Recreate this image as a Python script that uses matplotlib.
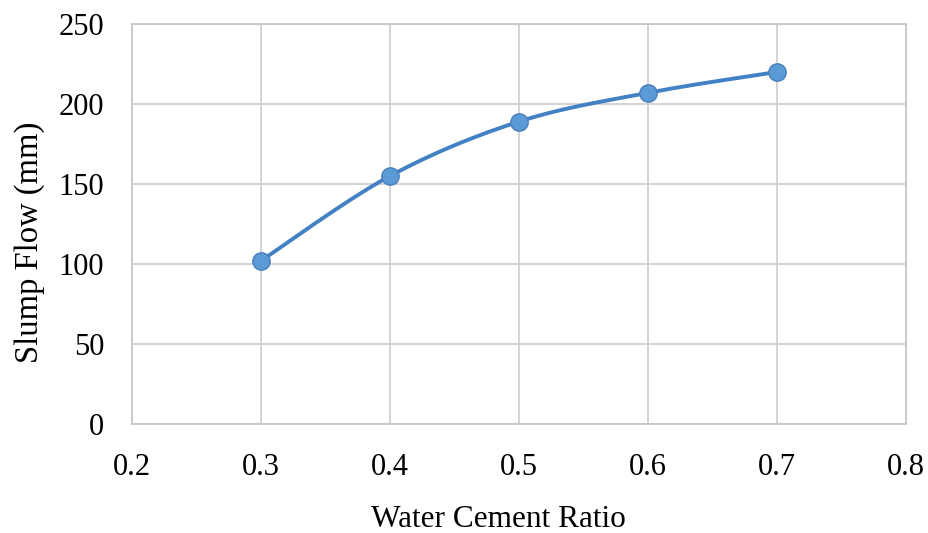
import numpy as np
import matplotlib
matplotlib.use("Agg")
import matplotlib.pyplot as plt

# Slump flow measured at each water-cement ratio
water_cement_ratio = [0.3, 0.4, 0.5, 0.6, 0.7]
slump_flow_mm = [102, 155, 189, 207, 220]

x_ticks = [0.2, 0.3, 0.4, 0.5, 0.6, 0.7, 0.8]
y_ticks = [0, 50, 100, 150, 200, 250]


def smooth_curve(xs, ys, n=40):
    """Cubic Bezier smoothing through the points (Catmull-Rom style)."""
    p = np.column_stack([xs, ys]).astype(float)
    out = []
    for i in range(len(p) - 1):
        p0 = p[i - 1] if i > 0 else p[i]
        p1 = p[i]
        p2 = p[i + 1]
        p3 = p[i + 2] if i + 2 < len(p) else p[i + 1]
        c1 = p1 + (p2 - p0) / 6.0
        c2 = p2 - (p3 - p1) / 6.0
        t = np.linspace(0, 1, n)[:, None]
        seg = ((1 - t) ** 3) * p1 + 3 * ((1 - t) ** 2) * t * c1 \
            + 3 * (1 - t) * t ** 2 * c2 + t ** 3 * p2
        out.append(seg if i == 0 else seg[1:])
    c = np.vstack(out)
    return c[:, 0], c[:, 1]


plt.rcParams["font.family"] = ["Liberation Serif", "DejaVu Serif"]

fig = plt.figure(figsize=(9.29, 5.33), dpi=100)
ax = fig.add_axes([0.1421, 0.2045, 0.8331, 0.7505])

sx, sy = smooth_curve(water_cement_ratio, slump_flow_mm)
ax.plot(sx, sy, color="#4281c4", lw=2.8, solid_capstyle="round", zorder=3)
ax.plot(water_cement_ratio, slump_flow_mm, ls="none", marker="o",
        markersize=12.5, markerfacecolor="#5b9bd5",
        markeredgecolor="#4a7fbd", markeredgewidth=1.0, zorder=4)

ax.set_xlim(0.2, 0.8)
ax.set_ylim(0, 250)
ax.set_xticks(x_ticks)
ax.set_yticks(y_ticks)
ax.set_xticklabels([f"{v:.1f}" for v in x_ticks])
ax.set_yticklabels([str(v) for v in y_ticks])

ax.grid(True, color="#d0d0d0", lw=1.3)
ax.set_axisbelow(True)
for s in ax.spines.values():
    s.set_color("#c8c8c8")
    s.set_linewidth(1.3)

ax.tick_params(axis="both", length=0, labelsize=22, colors="black")
ax.tick_params(axis="y", pad=20)
ax.tick_params(axis="x", pad=21)

ax.set_xlabel("Water Cement Ratio", fontsize=22.5)
ax.xaxis.set_label_coords(0.4735, -0.203)
ax.set_ylabel("Slump Flow (mm)", fontsize=23.5)
ax.yaxis.set_label_coords(-0.112, 0.455)

fig.savefig("out.png", dpi=100, facecolor="white")
